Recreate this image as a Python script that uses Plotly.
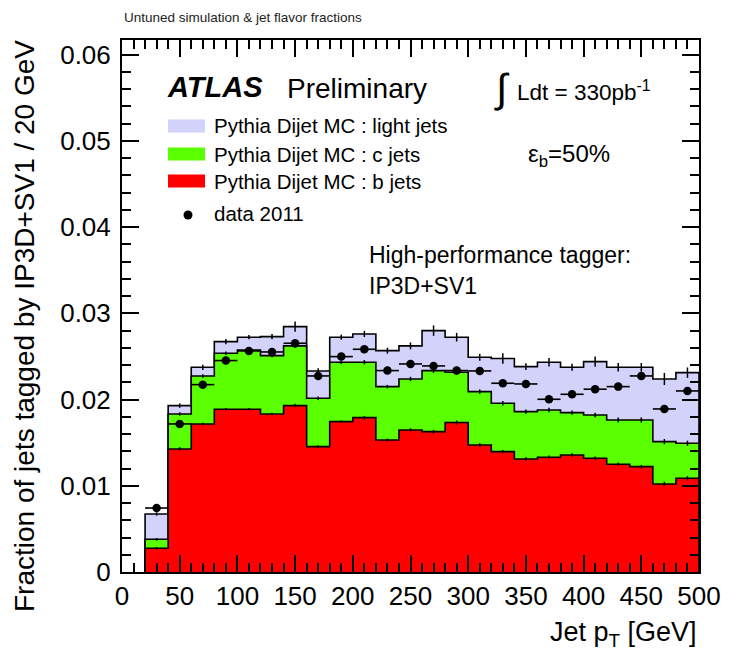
import numpy as np
import plotly.graph_objects as go

# Jet pT binning (GeV): 20 GeV wide bins from 20 to 500
bin_edges = [20, 40, 60, 80, 100, 120, 140, 160, 180, 200, 220, 240, 260,
             280, 300, 320, 340, 360, 380, 400, 420, 440, 460, 480, 500]

# Tagged-jet fractions per flavour (Pythia dijet MC)
frac_b = [0.00275, 0.01427, 0.01717, 0.01887, 0.01887, 0.01833, 0.01930, 0.01454,
          0.01744, 0.01790, 0.01531, 0.01647, 0.01628, 0.01733, 0.01473, 0.01396,
          0.01311, 0.01330, 0.01357, 0.01319, 0.01249, 0.01222, 0.01021, 0.01087]
frac_c = [0.00104, 0.00406, 0.00557, 0.00650, 0.00688, 0.00677, 0.00692, 0.00561,
          0.00689, 0.00643, 0.00619, 0.00592, 0.00708, 0.00583, 0.00619, 0.00561,
          0.00549, 0.00549, 0.00491, 0.00502, 0.00514, 0.00541, 0.00491, 0.00406]
frac_light = [0.00294, 0.00097, 0.00100, 0.00135, 0.00148, 0.00220, 0.00224, 0.00317,
              0.00290, 0.00328, 0.00417, 0.00383, 0.00463, 0.00407, 0.00398, 0.00519,
              0.00522, 0.00554, 0.00526, 0.00619, 0.00611, 0.00611, 0.00727, 0.00819]

# MC statistical uncertainty on each stacked boundary
err_b = [0.00015, 0.00020, 0.00015, 0.00015, 0.00015, 0.00015, 0.00020, 0.00015,
         0.00015, 0.00020, 0.00015, 0.00020, 0.00020, 0.00025, 0.00020, 0.00020,
         0.00020, 0.00020, 0.00020, 0.00020, 0.00020, 0.00020, 0.00025, 0.00025]
err_bc = [0.00015, 0.00020, 0.00020, 0.00020, 0.00020, 0.00020, 0.00025, 0.00020,
          0.00020, 0.00025, 0.00020, 0.00025, 0.00025, 0.00030, 0.00025, 0.00025,
          0.00025, 0.00025, 0.00025, 0.00025, 0.00030, 0.00030, 0.00030, 0.00030]
err_all = [0.00020, 0.00025, 0.00030, 0.00030, 0.00025, 0.00030, 0.00060, 0.00030,
           0.00030, 0.00035, 0.00035, 0.00040, 0.00060, 0.00050, 0.00040, 0.00060,
           0.00040, 0.00050, 0.00040, 0.00060, 0.00050, 0.00050, 0.00070, 0.00060]

# 2011 data
data_2011 = [0.00742, 0.01717, 0.02173, 0.02452, 0.02564, 0.02552, 0.02653, 0.02274,
             0.02498, 0.02583, 0.02336, 0.02413, 0.02390, 0.02336, 0.02332, 0.02189,
             0.02181, 0.02003, 0.02061, 0.02120, 0.02150, 0.02274, 0.01891, 0.02100]
data_err = [0.00010, 0.00010, 0.00010, 0.00010, 0.00010, 0.00010, 0.00012, 0.00015,
            0.00015, 0.00015, 0.00018, 0.00018, 0.00020, 0.00020, 0.00020, 0.00020,
            0.00020, 0.00018, 0.00020, 0.00022, 0.00022, 0.00046, 0.00036, 0.00045]

x_ticks = [0, 50, 100, 150, 200, 250, 300, 350, 400, 450, 500]
y_ticks = [0, 0.01, 0.02, 0.03, 0.04, 0.05, 0.06]

COL_LIGHT = "#d2d2fa"
COL_C = "#5aff00"
COL_B = "#ff0000"
FONT = "Liberation Sans, Arial, Helvetica, sans-serif"

edges = np.array(bin_edges, dtype=float)
centres = 0.5 * (edges[:-1] + edges[1:])
half_w = 0.5 * (edges[1:] - edges[:-1])

stack_b = np.array(frac_b)
stack_bc = stack_b + np.array(frac_c)
stack_all = stack_bc + np.array(frac_light)

W, H = 740, 654
L, R, T, B = 122, 699, 40, 572


def px(xp):
    return (xp - L) / (R - L)


def py(yp):
    return (B - yp) / (B - T)


def step_trace(vals, colour, name):
    xs = [edges[0]] + list(edges) + [edges[-1]]
    ys = [0.0] + list(vals) + [vals[-1], 0.0]
    return go.Scatter(x=xs, y=ys, mode="lines", line=dict(shape="hv", color="black", width=1.6),
                      fill="tozeroy", fillcolor=colour, name=name, showlegend=False,
                      hoverinfo="skip")


def err_ticks(vals, errs):
    return go.Scatter(x=centres, y=vals, mode="markers",
                      marker=dict(size=2, color="black", opacity=0),
                      error_y=dict(type="data", array=errs, visible=True, width=0,
                                   color="black", thickness=1.5),
                      showlegend=False, hoverinfo="skip")


fig = go.Figure()
fig.add_trace(step_trace(stack_all, COL_LIGHT, "light jets"))
fig.add_trace(step_trace(stack_bc, COL_C, "c jets"))
fig.add_trace(step_trace(stack_b, COL_B, "b jets"))
fig.add_trace(err_ticks(stack_all, err_all))
fig.add_trace(err_ticks(stack_bc, err_bc))
fig.add_trace(err_ticks(stack_b, err_b))

fig.add_trace(go.Scatter(
    x=centres, y=data_2011, mode="markers",
    marker=dict(size=8.5, color="black"),
    error_x=dict(type="data", array=half_w, visible=True, width=0, color="black", thickness=1.6),
    error_y=dict(type="data", array=data_err, visible=True, width=0, color="black", thickness=1.6),
    name="data 2011", showlegend=False))

axis_common = dict(
    showline=True, linewidth=2, linecolor="black", mirror="ticks",
    ticks="inside", tickwidth=1.5, tickcolor="black", ticklen=17,
    showgrid=False, zeroline=False,
    tickfont=dict(family=FONT, size=26, color="black"),
)

fig.update_xaxes(range=[0, 500], tickvals=x_ticks, ticktext=[str(v) for v in x_ticks],
                 minor=dict(dtick=10, tick0=0, ticks="inside", ticklen=9, tickwidth=1.5,
                            tickcolor="black", showgrid=False),
                 **axis_common)
fig.update_yaxes(range=[0, 0.0617], tickvals=y_ticks, ticktext=["0", "0.01", "0.02", "0.03",
                                                               "0.04", "0.05", "0.06"],
                 minor=dict(dtick=0.002, tick0=0, ticks="inside", ticklen=9, tickwidth=1.5,
                            tickcolor="black", showgrid=False),
                 ticklabelstandoff=4,
                 **axis_common)

ann = []


def text(xp, yp, s, size, xanchor="left", yanchor="middle", **kw):
    ann.append(dict(x=px(xp), y=py(yp), xref="paper", yref="paper", text=s, showarrow=False,
                    xanchor=xanchor, yanchor=yanchor,
                    font=dict(family=FONT, size=size, color=kw.pop("color", "black")), **kw))


text(122, 17, "Untuned simulation &amp; jet flavor fractions", 13.5, color="#222222")
text(165, 87, "<b><i>ATLAS</i></b>", 29)
text(285, 88, "Preliminary", 28)
text(492, 88, "∫", 40)
text(515, 91, "Ldt = 330pb<sup>-1</sup>", 22.5)
text(526, 155, "ε<sub>b</sub>=50%", 24)
text(367, 255, "High-performance tagger:", 23)
text(367, 286, "IP3D+SV1", 23)

# legend
legend_rows = [(126, COL_LIGHT, "Pythia Dijet MC : light jets"),
               (154, COL_C, "Pythia Dijet MC : c jets"),
               (181, COL_B, "Pythia Dijet MC : b jets")]
shapes = []
for yc, col, label in legend_rows:
    shapes.append(dict(type="rect", xref="paper", yref="paper",
                       x0=px(168), x1=px(205), y0=py(yc + 6.5), y1=py(yc - 6.5),
                       fillcolor=col, line=dict(width=0)))
    text(212, yc, label, 20.5)
shapes.append(dict(type="circle", xref="paper", yref="paper",
                   x0=px(183.5), x1=px(192.5), y0=py(219.5), y1=py(210.5),
                   fillcolor="black", line=dict(width=0)))
text(212, 214, "data 2011", 20.5)

# axis titles
text(699, 634, "Jet p<sub>T</sub> [GeV]", 27, xanchor="right")
ann.append(dict(x=px(24), y=py(326), xref="paper", yref="paper",
                text="Fraction of jets tagged by IP3D+SV1 / 20 GeV", showarrow=False,
                textangle=-90, xanchor="center", yanchor="middle",
                font=dict(family=FONT, size=28, color="black")))

fig.update_layout(
    width=W, height=H,
    margin=dict(l=L, r=W - R, t=T, b=H - B),
    paper_bgcolor="white", plot_bgcolor="white",
    showlegend=False,
    annotations=ann, shapes=shapes,
)

fig.write_html("out.html")
